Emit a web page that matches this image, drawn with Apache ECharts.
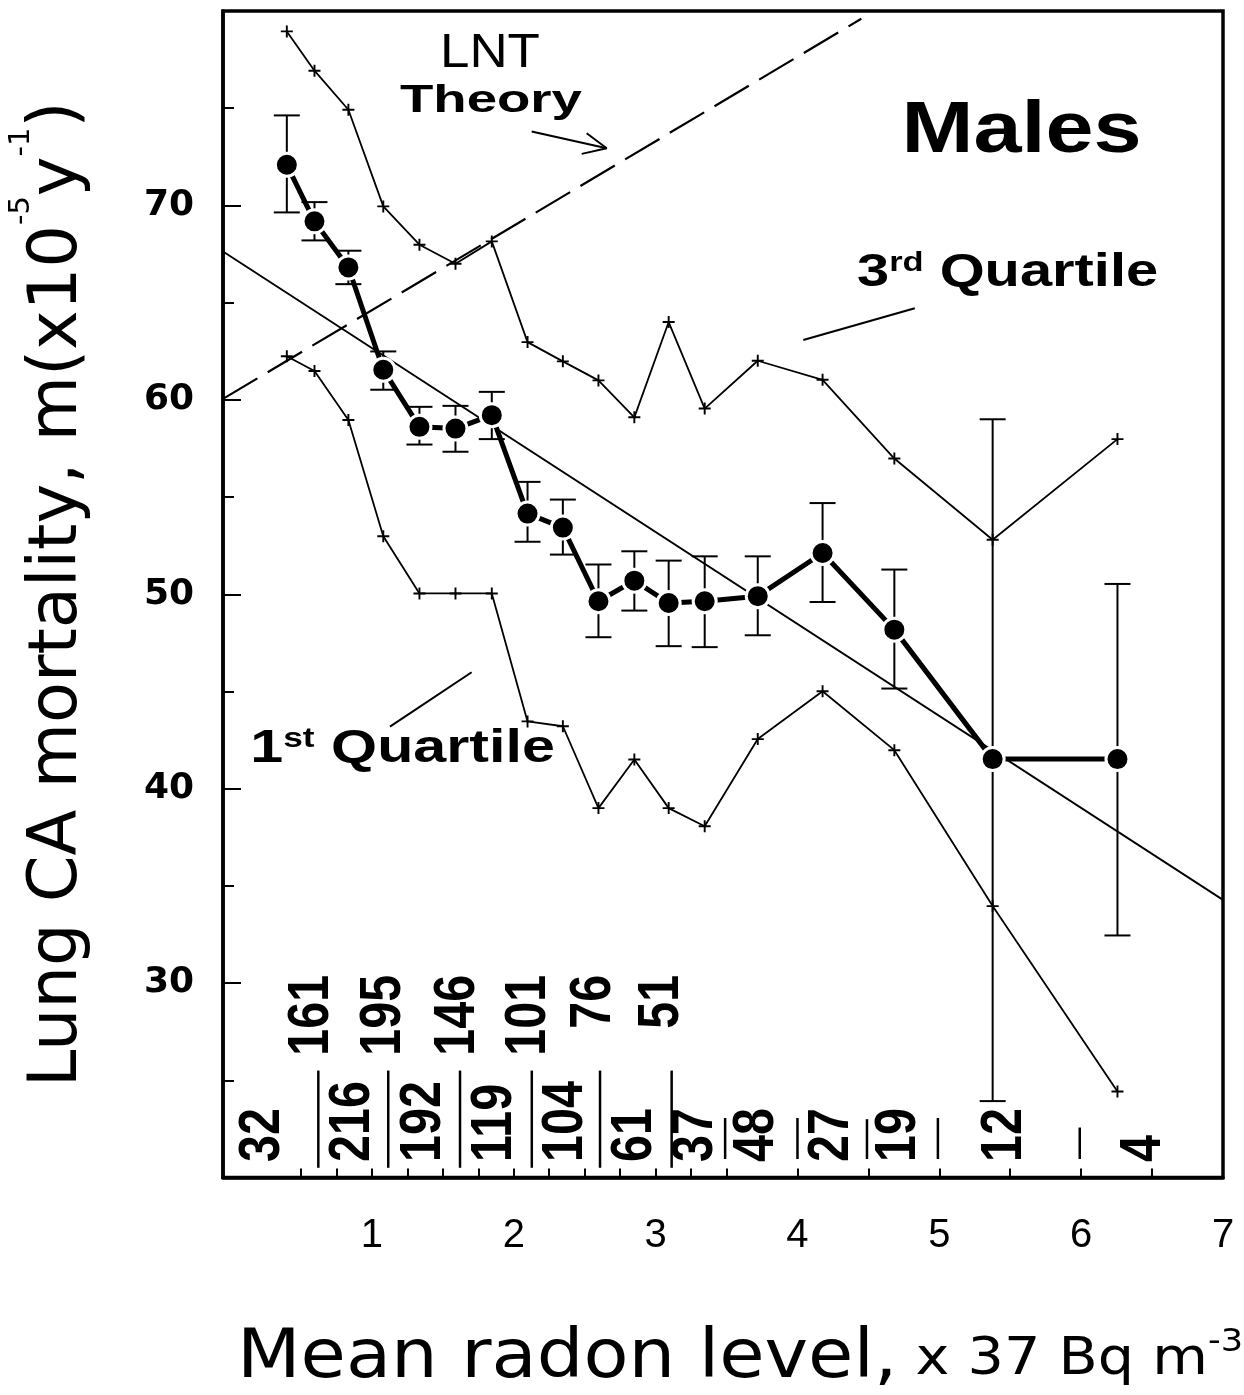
<!DOCTYPE html>
<html><head><meta charset="utf-8">
<script src="https://cdn.jsdelivr.net/npm/echarts@6/dist/echarts.min.js"></script>
<style>html,body{margin:0;padding:0;background:#fff}#c{width:1244px;height:1395px}</style>
</head><body><div id="c"></div>
<script>
// ---------------- data ----------------
const radonLevel    = [0.40, 0.595, 0.834, 1.08, 1.335, 1.589, 1.845, 2.097, 2.346, 2.597, 2.85, 3.092, 3.346, 3.72, 4.177, 4.683, 5.376, 6.256];
const mortality     = [72.09, 69.18, 66.81, 61.55, 58.61, 58.52, 59.21, 54.15, 53.43, 49.64, 50.70, 49.55, 49.64, 49.90, 52.12, 48.18, 41.52, 41.52];
const errorHigh     = [74.63, 70.17, 67.67, 62.49, 59.64, 59.69, 60.41, 55.78, 54.87, 51.53, 52.21, 51.73, 51.95, 51.95, 54.69, 51.27, 59.00, 50.53];
const errorLow      = [69.64, 68.20, 65.95, 60.52, 57.70, 57.33, 57.98, 52.70, 52.04, 47.79, 49.16, 47.33, 47.28, 47.89, 49.60, 45.15, 23.93, 32.45];
const thirdQuartile = [78.95, 76.93, 74.92, 69.95, 67.98, 67.00, 68.15, 62.97, 61.98, 61.00, 59.10, 64.00, 59.55, 62.01, 61.03, 56.98, 52.80, 57.98];
const firstQuartile = [62.24, 61.48, 58.96, 52.98, 50.04, 50.04, 50.04, 43.46, 43.21, 39.00, 41.50, 39.00, 38.07, 42.55, 45.01, 41.98, 33.96, 24.42];
const regressionLine = [[-0.05, 67.63], [7.0, 34.28]];
const lntLine        = [[-0.05, 60.05], [4.45, 79.6]];

// counties per radon bin (printed at the bottom of the plot)
const countsUpperRow = ['161', '195', '146', '101', '76', '51'];
const countsUpperX   = [0.577, 1.085, 1.606, 2.107, 2.566, 3.045];
const countsLowerRow = ['32', '216', '192', '119', '104', '61', '37', '48', '27', '19', '12', '4'];
const countsLowerX   = [0.231, 0.866, 1.367, 1.868, 2.369, 2.856, 3.289, 3.718, 4.247, 4.716, 5.463, 6.444];
const binSeparatorX      = [0.622, 1.115, 1.621, 2.127, 2.608, 3.113, 3.49, 4.0, 4.49, 4.99, 5.99];
const binSeparatorTop    = [25.5, 25.5, 25.5, 25.5, 25.5, 25.5, 23.06, 23.06, 23.0, 23.06, 22.57];
const binSeparatorBottom = [20.5, 20.5, 20.5, 20.5, 20.5, 20.5, 20.95, 20.95, 20.95, 20.95, 20.95];

// axis ticks / labels
const xTickValues  = [0.5, 0.75, 1, 1.25, 1.5, 1.75, 2, 2.25, 2.5, 2.75, 3, 3.25, 3.5, 4, 4.5, 5, 5.5, 6, 6.5, 7];
const xLabelValues = [1, 2, 3, 4, 5, 6, 7];
const yLabelValues = [30, 40, 50, 60, 70];

// annotation leader lines (data coordinates)
const thirdLeader = [[4.827, 64.71], [4.041, 63.08]];
const firstLeader = [[1.703, 45.99], [1.127, 43.19]];
const lntArrowShaft = [[2.126, 73.80], [2.655, 72.94]];
const lntArrowHead  = [[2.514, 73.71], [2.655, 72.94], [2.479, 72.65]];

// ---------------- styling ----------------
const SANS = '"Liberation Sans", Arial, Helvetica, sans-serif';
const DEJA = '"DejaVu Sans", sans-serif';
const countsUpperAnchorY = 30.42;
const countsLowerAnchorY = 20.80;

const quartileRich = {
  m: { fontSize: 47, fontWeight: 'bold', fontFamily: SANS, fill: '#000' },
  s: { fontSize: 28, fontWeight: 'bold', fontFamily: SANS, fill: '#000', verticalAlign: 'top' }
};
const xTitleRich = {
  a: { fontSize: 67, fontFamily: DEJA, fill: '#000' },
  b: { fontSize: 52, fontFamily: DEJA, fill: '#000' },
  c: { fontSize: 32, fontFamily: DEJA, fill: '#000', verticalAlign: 'top' }
};
const annotations = [
  { x: 1.832, y: 77.79, sx: 1.08, text: 'LNT', font: 'normal 49px ' + SANS },
  { x: 1.839, y: 75.37, sx: 1.40, text: 'Theory', font: 'bold 39px ' + SANS },
  { x: 5.580, y: 73.78, sx: 1.20, text: 'Males', font: 'bold 72px ' + SANS },
  { x: 5.481, y: 66.53, sx: 1.23, text: '{m|3}{s|rd}{m| Quartile}', rich: quartileRich, font: 'bold 47px ' + SANS },
  { x: 1.216, y: 42.04, sx: 1.26, text: '{m|1}{s|st}{m| Quartile}', rich: quartileRich, font: 'bold 47px ' + SANS },
  // x-axis title, placed below the axis
  { x: 3.595, y: 10.61, sx: 1.10, text: '{a|Mean radon level,}{b| x 37 Bq m}{c|-3}', rich: xTitleRich, font: '67px ' + DEJA }
];

const plusSymbol = 'path://M4.2,0H5.8V4.2H10V5.8H5.8V10H4.2V5.8H0V4.2H4.2Z';
const pairs = (ys) => radonLevel.map((x, i) => [x, ys[i]]);
const thinLine = (data, extra) => Object.assign({
  type: 'line', data: data, symbol: 'none', silent: true, animation: false,
  lineStyle: { color: '#000', width: 1.8 }, z: 3
}, extra || {});

const chart = echarts.init(document.getElementById('c'), null, { renderer: 'canvas' });

const option = {
  animation: false,
  backgroundColor: '#fff',
  grid: {
    left: 223, right: 21, top: 11, bottom: 217.5,
    show: true, borderColor: '#000', borderWidth: 3.5, backgroundColor: 'transparent',
    containLabel: false, outerBoundsMode: 'none'
  },
  xAxis: {
    type: 'value', min: -0.05, max: 7,
    axisLine: { show: true, onZero: false, lineStyle: { color: '#000', width: 3.5 } },
    axisTick: { show: true, inside: true, length: 9, customValues: xTickValues, lineStyle: { color: '#000', width: 2 } },
    axisLabel: { customValues: xLabelValues, fontFamily: SANS, fontSize: 40, color: '#000', margin: 38 },
    splitLine: { show: false }
  },
  yAxis: {
    type: 'value', min: 20, max: 80, interval: 10,
    name: '{a|Lung CA mortality, m(x10}{s|-5}{a|y}{s|-1}{a|)}',
    nameLocation: 'middle', nameGap: 131, nameRotate: 90, nameMoveOverlap: false,
    nameTextStyle: {
      color: '#000',
      rich: {
        a: { fontFamily: DEJA, fontSize: 67, color: '#000', padding: [18, 0, 0, 0] },
        s: { fontFamily: DEJA, fontSize: 29, color: '#000', verticalAlign: 'top' }
      }
    },
    axisLine: { show: true, onZero: false, lineStyle: { color: '#000', width: 3.5 } },
    axisTick: { show: true, inside: true, length: 18, lineStyle: { color: '#000', width: 2 } },
    minorTick: { show: true, splitNumber: 2, length: 11, lineStyle: { color: '#000', width: 2 } },
    axisLabel: { customValues: yLabelValues, fontFamily: DEJA, fontWeight: 'bold', fontSize: 36, color: '#000', margin: 29 },
    splitLine: { show: false }
  },
  series: [
    thinLine(lntLine, { lineStyle: { color: '#000', width: 2.2, type: [40, 12] } }),
    thinLine(regressionLine),
    thinLine(pairs(thirdQuartile), { symbol: plusSymbol, symbolSize: 12, showSymbol: true, itemStyle: { color: '#000' } }),
    thinLine(pairs(firstQuartile), { symbol: plusSymbol, symbolSize: 12, showSymbol: true, itemStyle: { color: '#000' } }),
    thinLine(thirdLeader, { lineStyle: { color: '#000', width: 2 } }),
    thinLine(firstLeader, { lineStyle: { color: '#000', width: 2 } }),
    thinLine(lntArrowShaft, { lineStyle: { color: '#000', width: 2 } }),
    thinLine(lntArrowHead, { lineStyle: { color: '#000', width: 2 } }),
    { // error bars
      type: 'custom', silent: true, z: 4,
      data: radonLevel.map((x, i) => [x, errorLow[i], errorHigh[i]]),
      encode: { x: 0, y: [1, 2] },
      renderItem: function (params, api) {
        const x = api.value(0);
        const lo = api.coord([x, api.value(1)]);
        const hi = api.coord([x, api.value(2)]);
        const w = 13, st = { stroke: '#000', lineWidth: 2 };
        return { type: 'group', children: [
          { type: 'line', shape: { x1: lo[0], y1: lo[1], x2: hi[0], y2: hi[1] }, style: st },
          { type: 'line', shape: { x1: lo[0] - w, y1: lo[1], x2: lo[0] + w, y2: lo[1] }, style: st },
          { type: 'line', shape: { x1: hi[0] - w, y1: hi[1], x2: hi[0] + w, y2: hi[1] }, style: st }
        ] };
      }
    },
    { // mean mortality
      type: 'line', silent: true, z: 6,
      data: pairs(mortality),
      symbol: 'circle', symbolSize: 23, showSymbol: true,
      lineStyle: { color: '#000', width: 5 },
      itemStyle: { color: '#000', borderColor: '#fff', borderWidth: 3 }
    },
    { // bin separators
      type: 'custom', silent: true, z: 4,
      data: binSeparatorX.map((x, i) => [x, binSeparatorBottom[i], binSeparatorTop[i]]),
      encode: { x: 0, y: [1, 2] },
      renderItem: function (params, api) {
        const x = api.value(0);
        const a = api.coord([x, api.value(1)]);
        const b = api.coord([x, api.value(2)]);
        return { type: 'line', shape: { x1: a[0], y1: a[1], x2: b[0], y2: b[1] }, style: { stroke: '#000', lineWidth: 2.5 } };
      }
    },
    { // counts, upper row
      type: 'custom', silent: true, z: 5,
      data: countsUpperX.map((x) => [x, countsUpperAnchorY]),
      renderItem: function (params, api) {
        const p = api.coord([api.value(0), api.value(1)]);
        return { type: 'text', x: p[0], y: p[1], rotation: Math.PI / 2, scaleX: 0.85,
          style: { text: countsUpperRow[params.dataIndex], font: 'bold 57px ' + SANS, fill: '#000', align: 'right', verticalAlign: 'middle' } };
      }
    },
    { // counts, lower row
      type: 'custom', silent: true, z: 5,
      data: countsLowerX.map((x) => [x, countsLowerAnchorY]),
      renderItem: function (params, api) {
        const p = api.coord([api.value(0), api.value(1)]);
        return { type: 'text', x: p[0], y: p[1], rotation: Math.PI / 2, scaleX: 0.85,
          style: { text: countsLowerRow[params.dataIndex], font: 'bold 57px ' + SANS, fill: '#000', align: 'left', verticalAlign: 'middle' } };
      }
    },
    { // text annotations
      type: 'custom', silent: true, z: 5, clip: false,
      data: annotations.map((a) => [a.x, a.y]),
      renderItem: function (params, api) {
        const a = annotations[params.dataIndex];
        const p = api.coord([api.value(0), api.value(1)]);
        const style = { text: a.text, fill: '#000', align: 'center', verticalAlign: 'middle', font: a.font };
        if (a.rich) style.rich = a.rich;
        return { type: 'text', x: p[0], y: p[1], scaleX: a.sx, style: style };
      }
    }
  ]
};
chart.setOption(option);
</script>
</body></html>
